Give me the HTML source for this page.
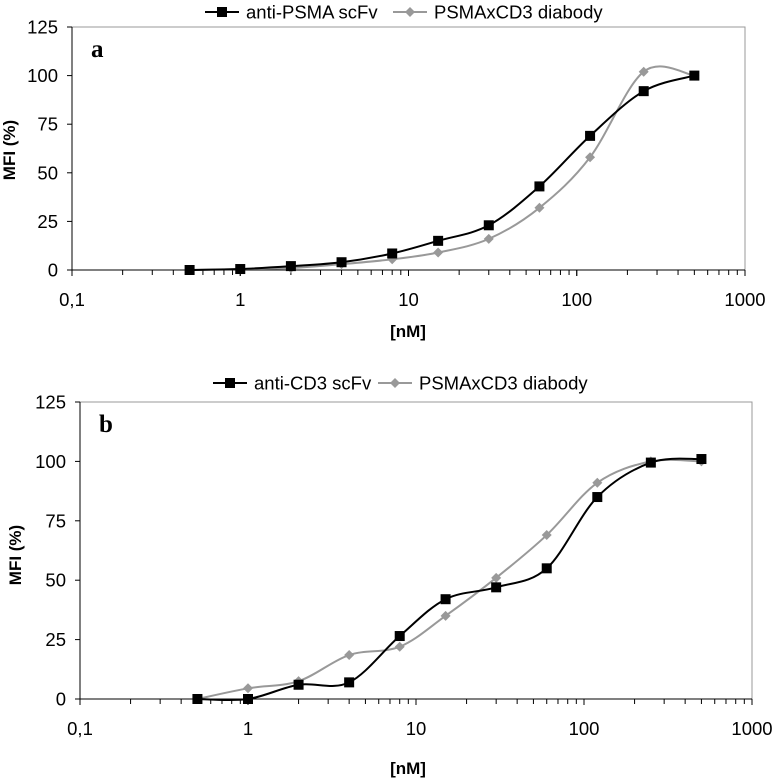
<!DOCTYPE html>
<html><head><meta charset="utf-8"><style>
body{margin:0;background:#fff}
svg{display:block;font-family:"Liberation Sans",sans-serif}
</style></head><body>
<svg id="svg" width="775" height="778"></svg>
<script>
const concentrations=[0.5,1,2,4,8,15,30,60,120,250,500];
const aScfv=[0,0.5,2,4,8.5,15,23,43,69,92,100];
const aDiabody=[0,0.5,1,3,5.5,9,16,32,58,102,100];
const bScfv=[0,0,6,7,26.5,42,47,55,85,99.5,101];
const bDiabody=[0,4.5,7.5,18.5,22,35,51,69,91,100,100];
const yTicks=[0,25,50,75,100,125];
const xTicks=[0.1,1,10,100,1000];
const xTickLabels=["0,1","1","10","100","1000"];
const NS="http://www.w3.org/2000/svg";
const svg=document.getElementById('svg');
function mk(tag,attrs,parent,text){const e=document.createElementNS(NS,tag);for(const k in attrs)e.setAttribute(k,attrs[k]);if(text!==undefined)e.textContent=text;(parent||svg).appendChild(e);return e;}
function smooth(pts){let d=`M${pts[0][0]},${pts[0][1]}`;for(let i=0;i<pts.length-1;i++){const p0=pts[Math.max(i-1,0)],p1=pts[i],p2=pts[i+1],p3=pts[Math.min(i+2,pts.length-1)];const t=0.5/3;d+=` C${p1[0]+(p2[0]-p0[0])*t},${p1[1]+(p2[1]-p0[1])*t} ${p2[0]-(p3[0]-p1[0])*t},${p2[1]-(p3[1]-p1[1])*t} ${p2[0]},${p2[1]}`;}return d;}
function chart(o){
  const g=mk('g',{});
  const X=v=>o.l+(Math.log10(v)+1)*(o.r-o.l)/4;
  const Y=v=>o.b-v*(o.b-o.t)/125;
  const frame=mk('path',{d:`M${o.l},${o.t}H${o.r}V${o.b}`,fill:'none',stroke:'#999','stroke-width':1},g);
  
  const ya=mk('line',{x1:o.l,y1:o.t,x2:o.l,y2:o.b,stroke:'#000','stroke-width':1},g);
  
  const xa=mk('line',{x1:o.l,y1:o.b,x2:o.r,y2:o.b,stroke:'#000','stroke-width':1},g);
  
  yTicks.forEach(v=>{mk('line',{x1:o.l-5,y1:Y(v),x2:o.l,y2:Y(v),stroke:'#000'},g);
    const t=mk('text',{x:o.l-14,y:Y(v)+6.5,'text-anchor':'end','font-size':18.5},g,String(v));
    });
  for(let d=-1;d<3;d++)for(let m=1;m<=10;m++){const v=m*Math.pow(10,d);mk('line',{x1:X(v),y1:o.b,x2:X(v),y2:o.b+(m==1||m==10?6:5),stroke:'#000'},g);}
  xTicks.forEach((v,i)=>{const t=mk('text',{x:X(v),y:o.b+36,'text-anchor':'middle','font-size':18.5},g,xTickLabels[i]);
    });
  const xt=mk('text',{x:o.xtx,y:o.xty,'text-anchor':'middle','font-size':17,'font-weight':'bold'},g,'[nM]');
  
  const yt=mk('text',{x:0,y:0,'text-anchor':'middle','font-size':17,'font-weight':'bold',transform:`translate(${o.ytx},${o.yty}) rotate(-90)`},g,'MFI (%)');
  
  const pl=mk('text',{x:o.l+19,y:o.t+30,'font-size':25,'font-weight':'bold','font-family':'Liberation Serif,serif'},g,o.letter);
  
  [[o.s2,'#999','diamond','diabody-series'],[o.s1,'#000','square','scfv-series']].forEach(([vals,c,shape,nm])=>{
    const sg=mk('g',{},g);
    const pts=concentrations.map((x,i)=>[X(x),Y(vals[i])]);
    mk('path',{d:smooth(pts),fill:'none',stroke:c,'stroke-width':2},sg);
    pts.forEach(p=>{let m;if(shape=='square')m=mk('rect',{x:p[0]-5,y:p[1]-5,width:10,height:10,fill:c},sg);
      else m=mk('path',{d:`M${p[0]},${p[1]-5}L${p[0]+5},${p[1]}L${p[0]},${p[1]+5}L${p[0]-5},${p[1]}Z`,fill:c},sg);
      });
  });
  const lg=mk('g',{},g);
  const ly=o.ly;
  const e1=mk('g',{},lg);
  mk('line',{x1:o.lx,y1:ly,x2:o.lx+34,y2:ly,stroke:'#000','stroke-width':2},e1);
  mk('rect',{x:o.lx+12,y:ly-5,width:10,height:10,fill:'#000'},e1);
  mk('text',{x:o.lx+41,y:ly+6.5,'font-size':18.5},e1,o.n1);
  const x2=o.lx2;
  const e2=mk('g',{},lg);
  mk('line',{x1:x2,y1:ly,x2:x2+34,y2:ly,stroke:'#999','stroke-width':2},e2);
  mk('path',{d:`M${x2+17},${ly-5}L${x2+22},${ly}L${x2+17},${ly+5}L${x2+12},${ly}Z`,fill:'#999'},e2);
  mk('text',{x:x2+41,y:ly+6.5,'font-size':18.5},e2,'PSMAxCD3 diabody');
}
chart({name:'chart-a',l:72,r:745,t:27,b:270,s1:aScfv,s2:aDiabody,letter:'a',xtx:408,xty:337,ytx:15,yty:150,lx:205,lx2:393,ly:12,n1:'anti-PSMA scFv'});
chart({name:'chart-b',l:80,r:752,t:402,b:699,s1:bScfv,s2:bDiabody,letter:'b',xtx:408,xty:774,ytx:21,yty:555,lx:213,lx2:378,ly:383,n1:'anti-CD3 scFv'});
</script>
</body></html>
